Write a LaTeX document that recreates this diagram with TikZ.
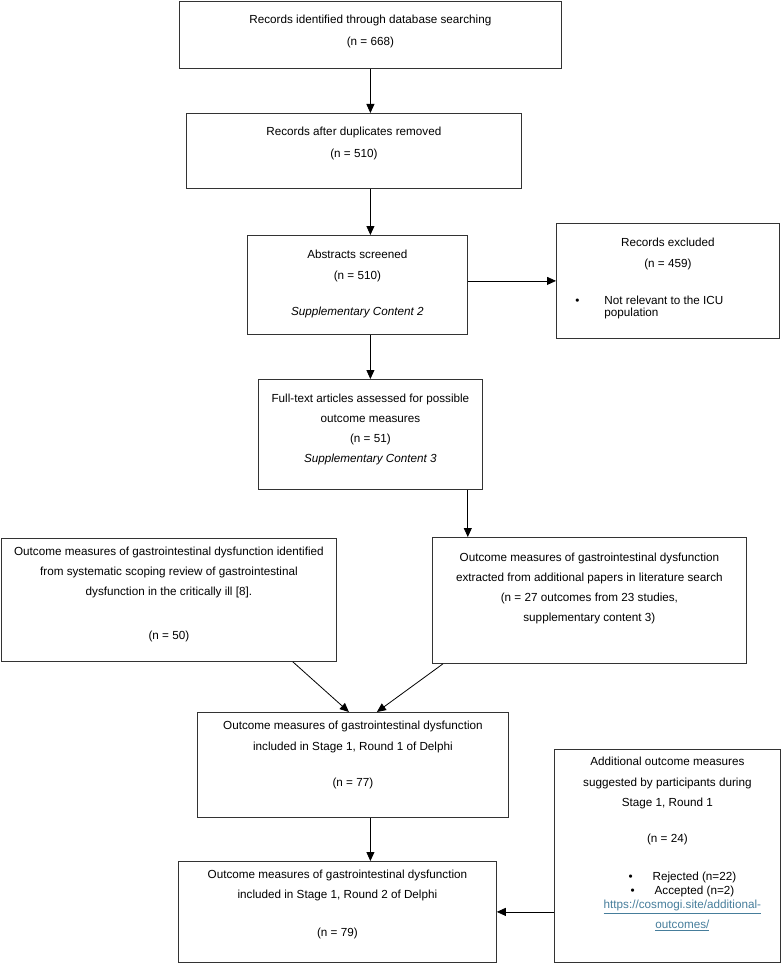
\documentclass[tikz,border=0pt]{standalone}
\usepackage{fontspec}
\setmainfont{Liberation Sans}
\usetikzlibrary{arrows.meta}
\definecolor{linkblue}{RGB}{70,125,155}
\newcommand{\boxtxt}[4]{\parbox[c][#2][t]{#1}{\centering\vspace*{#3}#4\par}}

\begin{document}
\begin{tikzpicture}[x=1pt,y=-1pt,
  flowbox/.style={draw=black!80, line width=0.8pt, anchor=north west, inner sep=0pt,
    font=\fontsize{11.7pt}{20.5pt}\selectfont},
  >={Triangle[length=9pt,width=8pt]}]
\useasboundingbox (0,0) rectangle (782,963);

\node[flowbox] (1) at (179,1) {\boxtxt{382pt}{67pt}{14pt}{Records identified through database searching\\[1.5pt](n = 668)}};
\node[flowbox] (2) at (186,113) {\boxtxt{335pt}{75pt}{14pt}{Records after duplicates removed\\[1.5pt](n = 510)}};
\node[flowbox] (3) at (247,235) {\boxtxt{220pt}{99pt}{15pt}{Abstracts screened\\(n = 510)\\[15.5pt]\textit{Supplementary Content 2}}};
\node[flowbox] (4) at (556,223) {\boxtxt{223pt}{115pt}{15pt}{Records excluded\\(n = 459)\\[16.5pt]%
  \makebox[223pt][l]{\hspace{19pt}\makebox[29pt][l]{\textbullet}\parbox[t]{170pt}{\baselineskip=12.5pt Not relevant to the ICU\\population}}}};
\node[flowbox] (5) at (258,379) {\boxtxt{224pt}{110pt}{15pt}{Full-text articles assessed for possible\\[-0.5pt]outcome measures\\[-0.5pt](n = 51)\\[-1pt]\textit{Supplementary Content 3}}};

\node[flowbox] (6) at (1,538) {\boxtxt{335pt}{123pt}{9pt}{Outcome measures of gastrointestinal dysfunction identified\\[-0.5pt]from systematic scoping review of gastrointestinal\\[-0.5pt]dysfunction in the critically ill [8].\\[23.5pt](n = 50)}};
\node[flowbox] (7) at (432,537) {\boxtxt{314pt}{126pt}{16pt}{Outcome measures of gastrointestinal dysfunction\\[-0.5pt]extracted from additional papers in literature search\\[-0.5pt](n = 27 outcomes from 23 studies,\\[-0.5pt]supplementary content 3)}};

\node[flowbox] (8) at (197,712) {\boxtxt{311pt}{105pt}{9pt}{Outcome measures of gastrointestinal dysfunction\\[0.5pt]included in Stage 1, Round 1 of Delphi\\[15.5pt](n = 77)}};
\node[flowbox] (9) at (178,861) {\boxtxt{318pt}{101pt}{9pt}{Outcome measures of gastrointestinal dysfunction\\[-0.5pt]included in Stage 1, Round 2 of Delphi\\[17.5pt](n = 79)}};
\node[flowbox] (10) at (554,749) {\boxtxt{226pt}{213pt}{8pt}{Additional outcome measures\\[0.5pt]suggested by participants during\\[-0.5pt]Stage 1, Round 1\\[15.5pt](n = 24)\\[17.5pt]%
  \hspace*{30pt}\textbullet\hspace{20pt}Rejected (n=22)\\[-6.5pt]
  \hspace*{30pt}\textbullet\hspace{20pt}Accepted (n=2)\\[-6.5pt]
  \hspace*{30pt}\textcolor{linkblue}{\underline{https://cosmogi.site/additional-}}\\[-0.5pt]
  \hspace*{30pt}\textcolor{linkblue}{\underline{outcomes/}}}};

\coordinate (5a) at ([xshift=-15pt]5.south east);

\path[draw,thick,->] (1) -- (1 |- 2.north);
\path[draw,thick,->] (2.south -| 1) -- (3.north -| 1);
\path[draw,thick,->] (3.south -| 1) -- (5.north -| 1);
\path[draw,thick,->] (3.east |- 4.west) -- (4.west);
\path[draw,thick,->] (5a) -- (5a |- 7.north);
\path[draw,thick,->] ([xshift=-44pt]6.south east) -- ([xshift=-4pt]8.north);
\path[draw,thick,->] ([xshift=11pt]7.south west) -- ([xshift=24pt]8.north);
\path[draw,thick,->] (8.south -| 1) -- (9.north -| 1);
\path[draw,thick,->] (10.west |- 9.east) -- (9.east);
\end{tikzpicture}
\end{document}
